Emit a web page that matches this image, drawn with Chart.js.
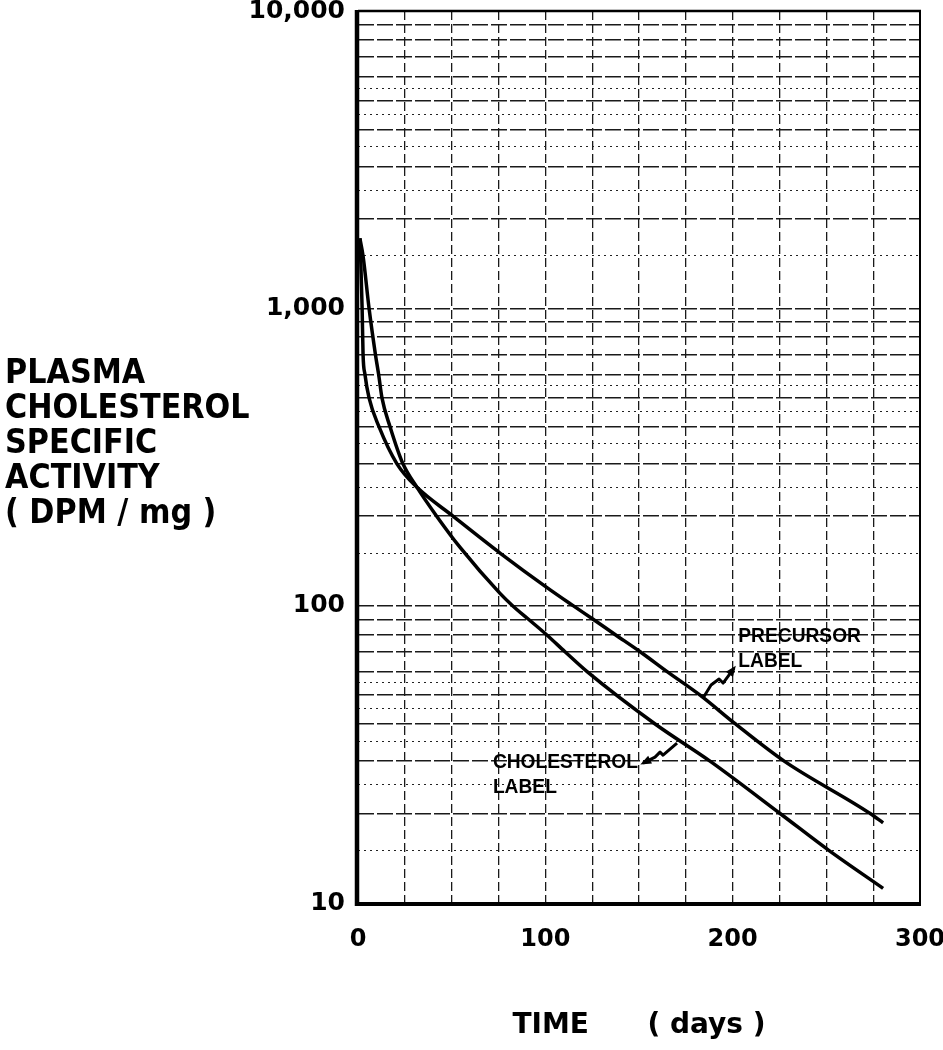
<!DOCTYPE html>
<html>
<head>
<meta charset="utf-8">
<script src="https://cdn.jsdelivr.net/npm/chart.js@4.4.0/dist/chart.umd.min.js"></script>
<style>
  body { margin: 0; background: #fff; }
  #wrap { position: relative; width: 943px; height: 1050px; }
  #ytitle {
    position: absolute; left: 5px; top: 354px;
    font: bold 34px "DejaVu Sans"; line-height: 35px; color: #000;
    transform: scaleX(0.89); transform-origin: left top; white-space: nowrap;
  }
</style>
</head>
<body>
<div id="wrap">
  <canvas id="chart"></canvas>
  <div id="ytitle">PLASMA<br>CHOLESTEROL<br>SPECIFIC<br>ACTIVITY<br>( DPM / mg )</div>
</div>
<script>
// values (days, DPM/mg)
const precursorDays = [1, 1.4, 2.2, 2.7, 3.7, 5.9, 11.2, 20.8, 31.5, 50.7, 76, 100.9, 114.8, 125.5, 137.2, 150.6, 165, 182.6, 201.5, 227.5, 273.4, 280.3];
const precursorValues = [1720, 1500, 1000, 700, 600, 500, 400, 300, 250, 200, 150, 115, 100, 90, 80, 70, 60, 50, 40, 30, 20, 18.6];

const cholesterolDays = [1, 2.7, 5.9, 9.3, 11, 12.8, 17.1, 24, 31.5, 42, 54.5, 75.8, 82.5, 91, 100.5, 110.5, 122.3, 158.6, 187.9, 225.3, 251.5, 280.3];
const cholesterolValues = [1720, 1500, 1000, 700, 600, 500, 400, 300, 250, 200, 157, 110, 100, 90, 80, 70, 60, 40, 30, 20, 15, 11.2];

const xTickLabels = [0, 100, 200, 300];
const yTicks = [10, 100, 1000, 10000];
const yTickLabels = ['10', '100', '1,000', '10,000'];

// log paper rulings
const decades = [10, 100, 1000];
const majorSteps = [1, 2, 3, 4, 5, 6, 7, 8, 9];
const minorSteps = [1.5, 2.5, 3.5, 4.5, 5.5];

// curve notes
const noteLines = [['PRECURSOR', 'LABEL'], ['CHOLESTEROL', 'LABEL']];
const noteDays = [203, 72];
const noteValues = [75.4, 28.4];
const leaderDays = [184.2, 170.3];
const leaderValues = [48.9, 34.5];

const majorGrid = decades.flatMap(d => majorSteps.map(m => m * d)).concat(10000);
const minorGrid = decades.flatMap(d => minorSteps.map(m => m * d));

Chart.defaults.color = '#000';
Chart.defaults.font.family = '"DejaVu Sans"';
Chart.defaults.font.weight = 'bold';

const toPoints = (days, values) => days.map((d, i) => ({ x: d, y: values[i] }));

// squiggly leaders, pixel offsets from the point on the curve
const leaderShapes = [
  [[0, 0], [8, -13], [16, -19], [20, -15], [31, -30]],
  [[0, 0], [-14, 12], [-17, 9], [-22, 14], [-34, 20]]
];

const paperFrame = {
  id: 'paperFrame',
  afterDatasetsDraw(chart) {
    const { ctx, chartArea: a, scales: { x, y } } = chart;
    ctx.save();
    ctx.strokeStyle = '#000';
    ctx.fillStyle = '#000';
    const side = (w, x1, y1, x2, y2) => {
      ctx.lineWidth = w;
      ctx.beginPath();
      ctx.moveTo(x1, y1);
      ctx.lineTo(x2, y2);
      ctx.stroke();
    };
    side(4.5, a.left - 1, a.top - 1, a.left - 1, a.bottom + 3);
    side(4, a.left - 3, a.bottom + 1, a.right + 1, a.bottom + 1);
    side(2.5, a.left, a.top, a.right + 1, a.top);
    side(2, a.right, a.top, a.right, a.bottom);

    // notes
    ctx.font = 'bold 20px "Liberation Sans"';
    ctx.textBaseline = 'alphabetic';
    noteLines.forEach((lines, i) => {
      const px = x.getPixelForValue(noteDays[i]);
      const py = y.getPixelForValue(noteValues[i]);
      lines.forEach((t, j) => {
        const w = ctx.measureText(t).width;
        ctx.fillText(t, px, py + j * 25, w * 0.96);
      });
    });

    ctx.lineWidth = 3;
    ctx.lineJoin = 'round';
    leaderShapes.forEach((shape, i) => {
      const px = x.getPixelForValue(leaderDays[i]);
      const py = y.getPixelForValue(leaderValues[i]);
      ctx.beginPath();
      shape.forEach(([dx, dy], k) => k ? ctx.lineTo(px + dx, py + dy) : ctx.moveTo(px + dx, py + dy));
      ctx.stroke();
      // arrow head at the text end
      const [ex, ey] = shape[shape.length - 1];
      const [bx, by] = shape[shape.length - 2];
      const ang = Math.atan2(ey - by, ex - bx);
      ctx.beginPath();
      ctx.moveTo(px + ex + 3 * Math.cos(ang), py + ey + 3 * Math.sin(ang));
      ctx.lineTo(px + ex - 9 * Math.cos(ang - 0.5), py + ey - 9 * Math.sin(ang - 0.5));
      ctx.lineTo(px + ex - 9 * Math.cos(ang + 0.5), py + ey - 9 * Math.sin(ang + 0.5));
      ctx.closePath();
      ctx.fill();
    });
    ctx.restore();
  }
};

new Chart(document.getElementById('chart'), {
  type: 'line',
  data: {
    datasets: [
      {
        label: 'Precursor label',
        data: toPoints(precursorDays, precursorValues),
        borderColor: '#000',
        borderWidth: 3.5,
        pointRadius: 0,
        cubicInterpolationMode: 'monotone',
        fill: false
      },
      {
        label: 'Cholesterol label',
        data: toPoints(cholesterolDays, cholesterolValues),
        borderColor: '#000',
        borderWidth: 3.5,
        pointRadius: 0,
        cubicInterpolationMode: 'monotone',
        fill: false
      }
    ]
  },
  options: {
    responsive: true,
    maintainAspectRatio: false,
    animation: false,
    layout: { padding: { top: 11, right: 23, bottom: 0, left: 0 } },
    plugins: {
      legend: { display: false },
      tooltip: { enabled: false }
    },
    scales: {
      x: {
        type: 'linear',
        min: 0,
        max: 300,
        afterFit: s => { s.height = 147; s.paddingLeft = 0; s.paddingRight = 0; },
        ticks: {
          stepSize: 25,
          autoSkip: false,
          maxRotation: 0,
          minRotation: 0,
          padding: 22,
          font: { size: 24 },
          callback: v => xTickLabels.includes(v) ? String(v) : ''
        },
        grid: { color: '#1a1a1a', lineWidth: 1.3, drawTicks: false },
        border: { display: false, dash: [9, 4] },
        title: {
          display: true,
          text: 'TIME      ( days )',
          font: { size: 28 },
          padding: { top: 0, bottom: 7 }
        }
      },
      y: {
        type: 'logarithmic',
        min: 10,
        max: 10000,
        afterBuildTicks: s => { s.ticks = majorGrid.map(v => ({ value: v })); },
        afterFit: s => { s.width = 358; s.paddingTop = 0; s.paddingBottom = 0; },
        ticks: {
          autoSkip: false,
          padding: 13,
          font: { size: 25 },
          callback: v => {
            const i = yTicks.indexOf(v);
            return i >= 0 ? yTickLabels[i] : '';
          }
        },
        grid: { color: '#1a1a1a', lineWidth: 1.4, drawTicks: false },
        border: { display: false, dash: [16, 3] }
      },
      yMinor: {
        type: 'logarithmic',
        position: 'left',
        min: 10,
        max: 10000,
        afterBuildTicks: s => { s.ticks = minorGrid.map(v => ({ value: v })); },
        afterFit: s => { s.width = 0; },
        ticks: { display: false },
        grid: { color: '#222', lineWidth: 1, drawTicks: false },
        border: { display: false, dash: [2, 4] }
      }
    }
  },
  plugins: [paperFrame]
});
</script>
</body>
</html>
